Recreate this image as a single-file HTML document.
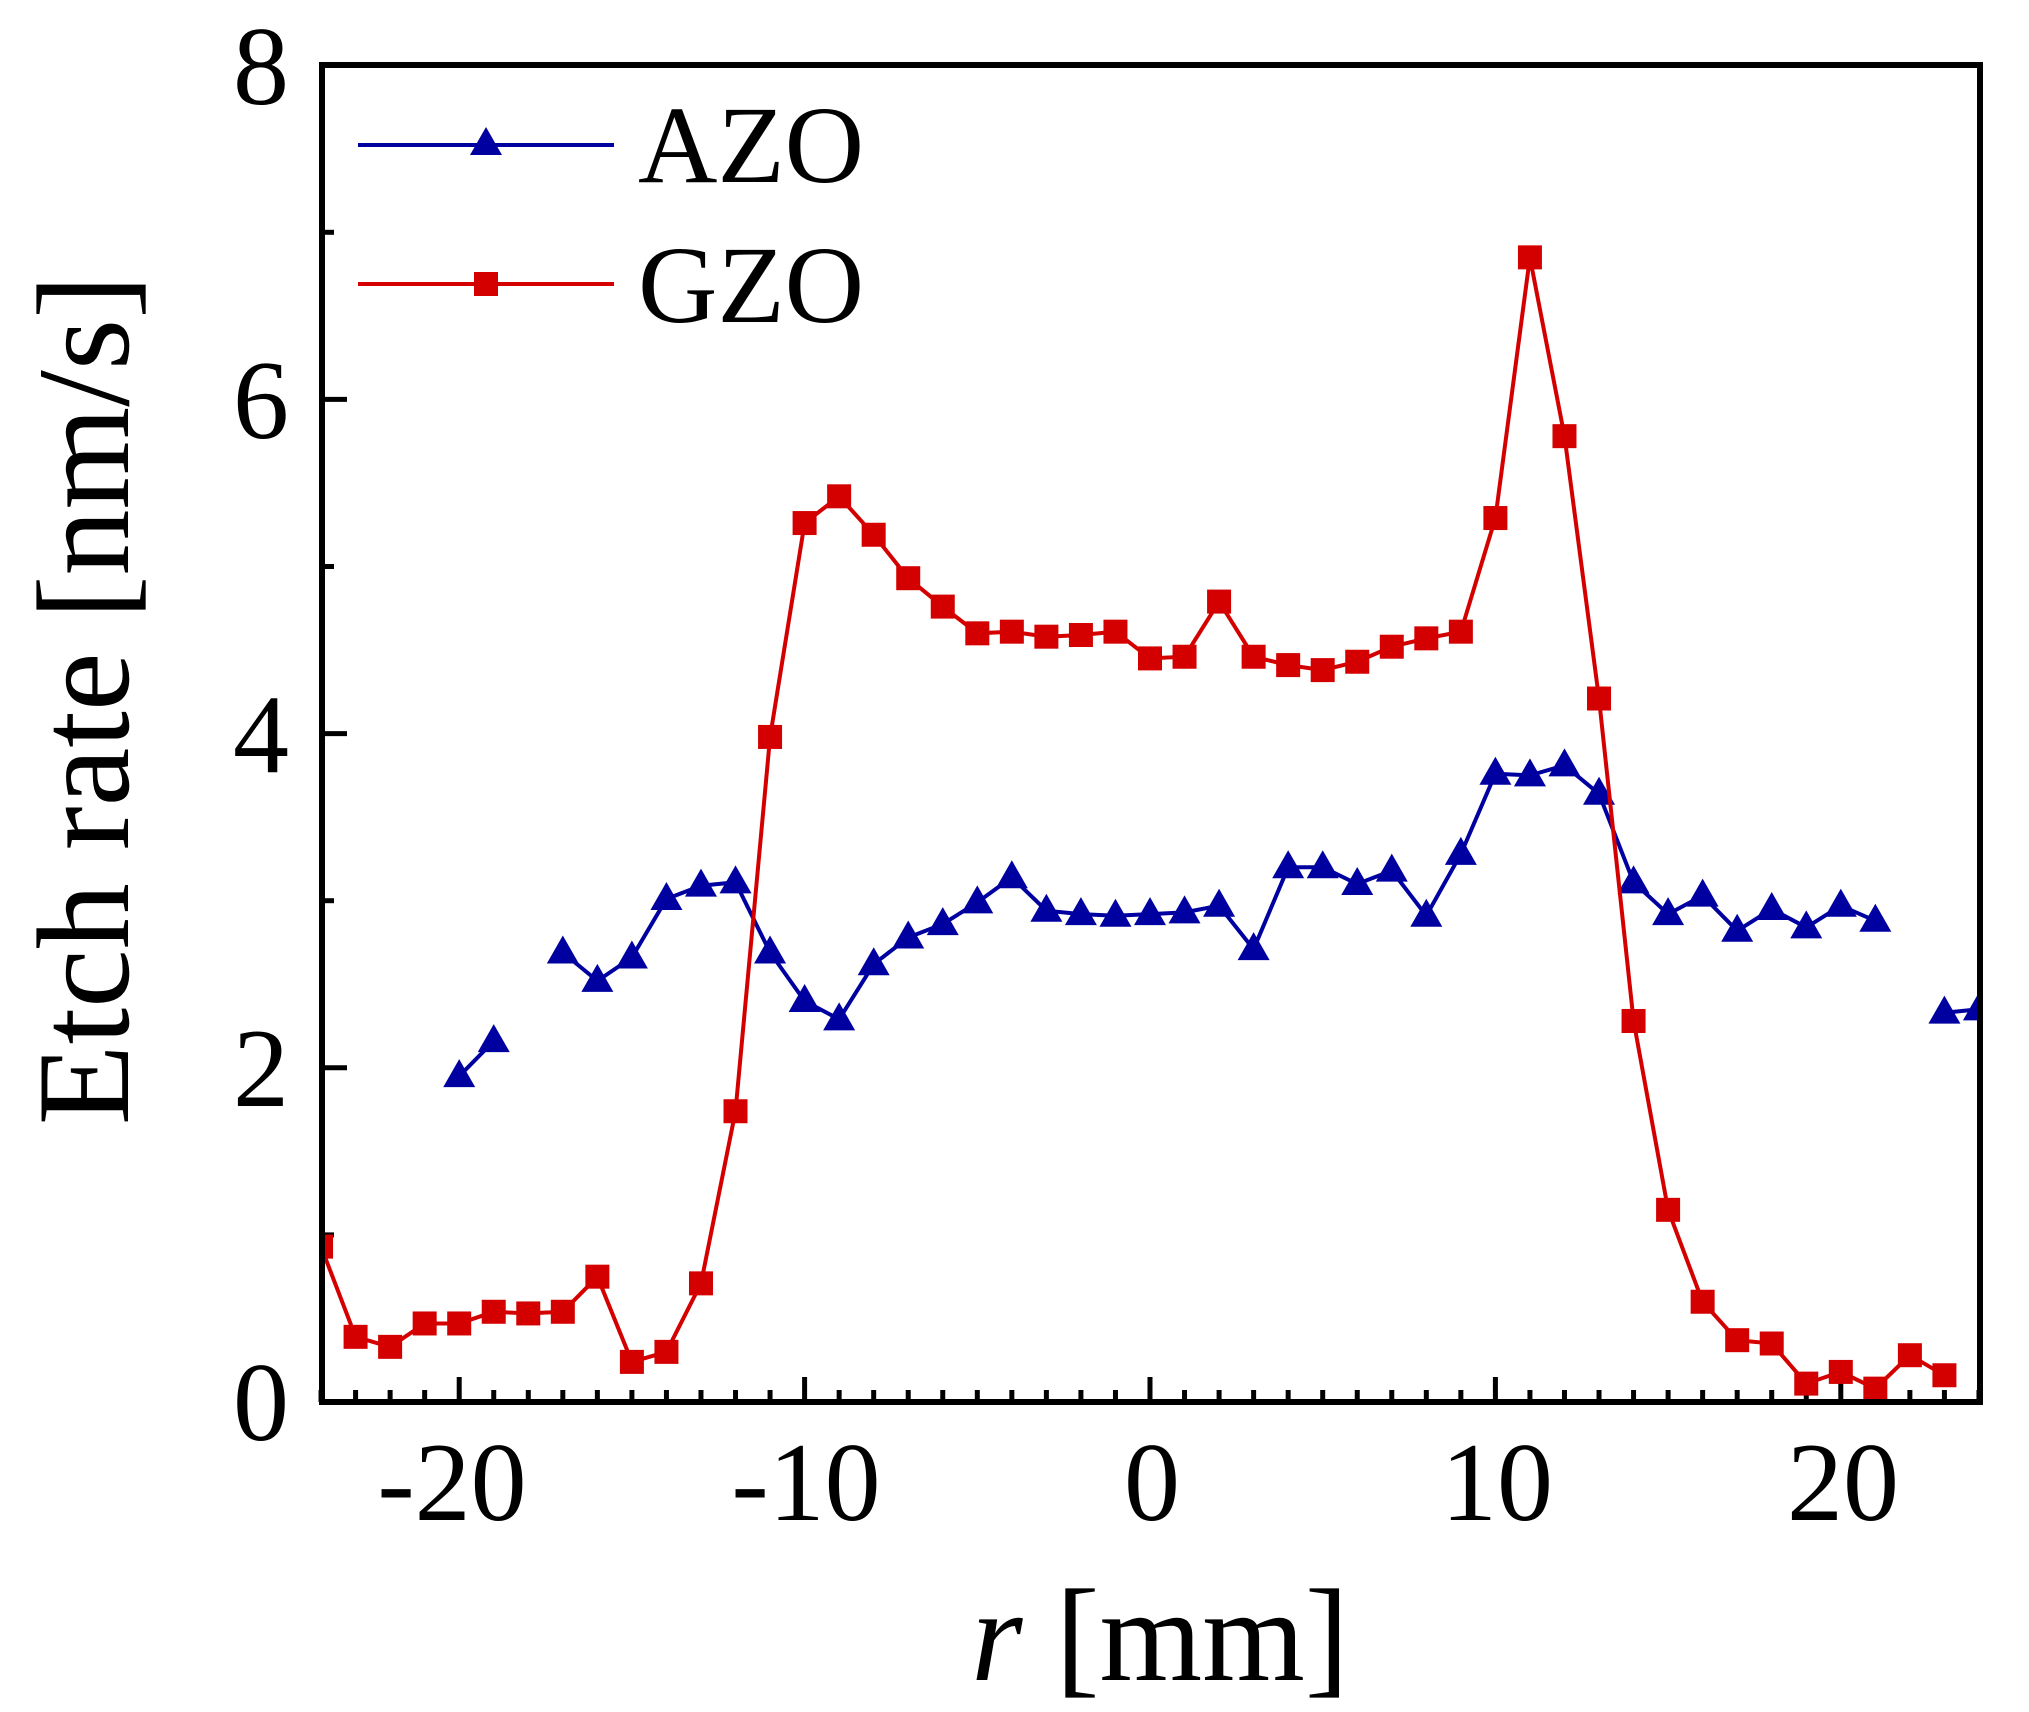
<!DOCTYPE html>
<html><head><meta charset="utf-8"><style>
html,body{margin:0;padding:0;background:#fff;}
svg{display:block;}
text{font-family:"Liberation Serif",serif;fill:#000;}
</style></head><body>
<svg id="s" width="2029" height="1712" viewBox="0 0 2029 1712" xmlns="http://www.w3.org/2000/svg">
<defs><clipPath id="c"><rect x="322" y="65" width="1660" height="1337"/></clipPath></defs>
<g id="ticks" stroke="#000" stroke-width="5"></g>
<g id="data" clip-path="url(#c)"></g>
<rect x="322" y="65" width="1658" height="1337" fill="none" stroke="#000" stroke-width="6"/>
<g font-size="112" text-anchor="end">
<text x="289" y="1440">0</text>
<text x="289" y="1106">2</text>
<text x="289" y="772">4</text>
<text x="289" y="438">6</text>
<text x="289" y="104">8</text>
</g>
<g font-size="112" text-anchor="middle">
<text x="452" y="1520">-20</text>
<text x="806" y="1520">-10</text>
<text x="1152" y="1520">0</text>
<text x="1497" y="1520">10</text>
<text x="1843" y="1520">20</text>
</g>
<text transform="translate(128,700) rotate(-90)" font-size="132" text-anchor="middle">Etch rate [nm/s]</text>
<text x="1160" y="1680" font-size="132" text-anchor="middle"><tspan font-style="italic">r</tspan> [mm]</text>
<line x1="358" y1="145" x2="614" y2="145" stroke="#0000a0" stroke-width="4"/>
<polygon points="486,127 470,155 502,155" fill="#0000a0"/>
<line x1="358" y1="284" x2="614" y2="284" stroke="#d40000" stroke-width="4"/>
<rect x="474" y="272" width="24" height="24" fill="#d40000"/>
<text x="638" y="182" font-size="110">AZO</text>
<text x="638" y="322" font-size="110">GZO</text>
</svg>
<script>
var X=function(v){return 1150+v*34.54;},Y=function(v){return 1402-v*167.1;};
var NS="http://www.w3.org/2000/svg";
var t=document.getElementById("ticks"),h="";
for(var i=-24;i<=24;i++){var L=(i%10==0)?25:12;h+='<line x1="'+X(i)+'" y1="1402" x2="'+X(i)+'" y2="'+(1402-L)+'"/>';}
for(var j=1;j<8;j++){var L=(j%2==0)?25:12;h+='<line x1="322" y1="'+Y(j)+'" x2="'+(322+L)+'" y2="'+Y(j)+'"/>';}
t.innerHTML=h;
var g=[0.93,0.39,0.33,0.47,0.47,0.54,0.53,0.54,0.75,0.24,0.30,0.71,1.74,3.98,5.26,5.42,5.19,4.93,4.76,4.6,4.61,4.58,4.59,4.61,4.45,4.46,4.79,4.46,4.41,4.38,4.43,4.52,4.57,4.61,5.29,6.85,5.78,4.21,2.28,1.15,0.6,0.37,0.35,0.11,0.18,0.08,0.28,0.16];
var a=[[[-20,1.95],[-19,2.16]],
[[-17,2.69],[-16,2.52],[-15,2.66],[-14,3.01],[-13,3.09],[-12,3.11],[-11,2.69],[-10,2.4],[-9,2.29],[-8,2.62],[-7,2.78],[-6,2.86],[-5,2.99],[-4,3.14],[-3,2.94],[-2,2.92],[-1,2.91],[0,2.92],[1,2.93],[2,2.97],[3,2.71],[4,3.2],[5,3.2],[6,3.1],[7,3.18],[8,2.91],[9,3.28],[10,3.76],[11,3.75],[12,3.81],[13,3.64],[14,3.11],[15,2.92],[16,3.03],[17,2.82],[18,2.95],[19,2.84],[20,2.97],[21,2.88]],
[[23,2.33],[24,2.35]]];
var d="";
a.forEach(function(seg){var p=seg.map(function(q){return X(q[0]).toFixed(1)+","+Y(q[1]).toFixed(1)}).join(" ");
d+='<polyline points="'+p+'" fill="none" stroke="#0000a0" stroke-width="4"/>';
seg.forEach(function(q){var x=X(q[0]),y=Y(q[1]);d+='<polygon points="'+x+','+(y-17)+' '+(x-16)+','+(y+11)+' '+(x+16)+','+(y+11)+'" fill="#0000a0"/>';});});
var pg=g.map(function(v,k){return X(k-24).toFixed(1)+","+Y(v).toFixed(1)}).join(" ");
d+='<polyline points="'+pg+'" fill="none" stroke="#d40000" stroke-width="4"/>';
g.forEach(function(v,k){d+='<rect x="'+(X(k-24)-12)+'" y="'+(Y(v)-12)+'" width="24" height="24" fill="#d40000"/>';});
document.getElementById("data").innerHTML=d;
</script>
</body></html>
